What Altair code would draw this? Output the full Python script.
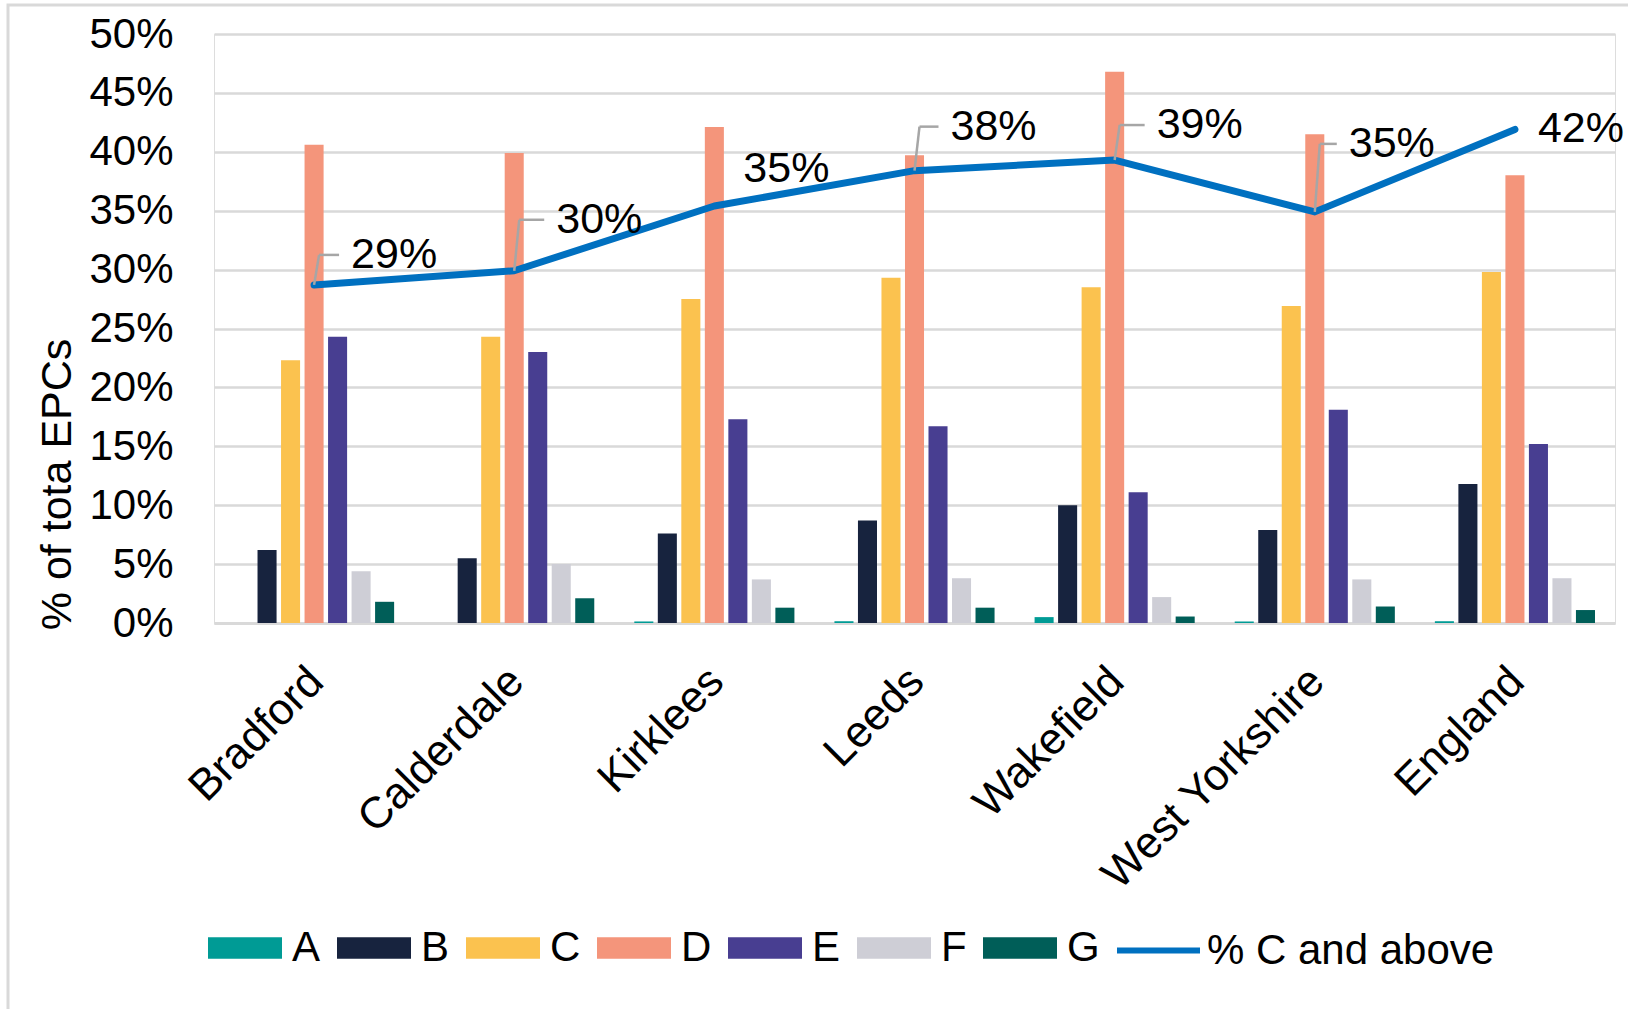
import altair as alt
import pandas as pd

FONT = "Liberation Sans"

regions = ["Bradford", "Calderdale", "Kirklees", "Leeds", "Wakefield", "West Yorkshire", "England"]
bands = ["A", "B", "C", "D", "E", "F", "G"]

# Share of EPCs in each rating band (%), listed in region order
band_a = [0.0, 0.0, 0.13, 0.15, 0.5, 0.12, 0.15]
band_b = [6.2, 5.5, 7.6, 8.7, 10.0, 7.9, 11.8]
band_c = [22.3, 24.3, 27.5, 29.3, 28.5, 26.9, 29.8]
band_d = [40.6, 39.9, 42.1, 39.7, 46.8, 41.5, 38.0]
band_e = [24.3, 23.0, 17.3, 16.7, 11.1, 18.1, 15.2]
band_f = [4.4, 5.0, 3.7, 3.8, 2.2, 3.7, 3.8]
band_g = [1.8, 2.1, 1.3, 1.3, 0.55, 1.4, 1.1]

# Share rated C or better (%)
c_and_above = [28.7, 29.9, 35.4, 38.4, 39.3, 34.9, 41.9]
line_name = "% C and above"

band_colors = ["#009B95", "#17233E", "#FBC24F", "#F4957B", "#483E91", "#CECED6", "#005E58"]
line_color = "#0070C0"

band_values = [band_a, band_b, band_c, band_d, band_e, band_f, band_g]
bars_df = pd.DataFrame(
    [
        {"region": r, "band": b, "value": vals[i] / 100}
        for b, vals in zip(bands, band_values)
        for i, r in enumerate(regions)
    ]
)
line_df = pd.DataFrame(
    {"region": regions, "value": [v / 100 for v in c_and_above], "series": line_name}
)

W, H = 1401, 589

x_scale = alt.Scale(domain=regions, paddingInner=0.2, paddingOuter=0.1)
y_scale = alt.Scale(domain=[0, 0.5], nice=False, zero=True)

x_axis = alt.Axis(
    labelAngle=-45,
    labelAlign="right",
    labelBaseline="top",
    labelFontSize=44,
    labelFont=FONT,
    labelColor="black",
    labelPadding=36,
    labelOffset=-13,
    ticks=False,
    domain=True,
    domainColor="#D9D9D9",
    domainWidth=3,
    grid=False,
    labelLimit=600,
)
y_axis = alt.Axis(
    values=[i * 0.05 for i in range(11)],
    format=".0%",
    labelFontSize=42,
    labelFont=FONT,
    labelColor="black",
    labelPadding=41,
    ticks=False,
    domain=False,
    grid=True,
    gridColor="#D9D9D9",
    gridWidth=2.5,
    titleFont=FONT,
    titleFontSize=43,
    titleFontWeight="normal",
    titleColor="black",
    titleAngle=-90,
    titleAlign="center",
    titleBaseline="middle",
    titleX=-157,
    titleY=450,
)

y_enc = alt.Y("value:Q", scale=y_scale, axis=y_axis, title="% of tota EPCs")


def x_enc(center=False):
    if center:
        return alt.X("region:N", sort=regions, scale=x_scale, axis=x_axis, title=None, bandPosition=0.5)
    return alt.X("region:N", sort=regions, scale=x_scale, axis=x_axis, title=None)


bars = (
    alt.Chart(bars_df)
    .mark_bar()
    .encode(
        x=x_enc(),
        xOffset=alt.XOffset("band:N", sort=bands, scale=alt.Scale(paddingInner=0.19, paddingOuter=0)),
        y=y_enc,
        color=alt.Color(
            "band:N",
            scale=alt.Scale(domain=bands, range=band_colors),
            legend=alt.Legend(
                title=None,
                orient="none",
                direction="horizontal",
                legendX=-6,
                legendY=877,
                padding=0,
                symbolType="M-1,-0.29H1V0.29H-1Z",
                symbolSize=5476,
                symbolStrokeWidth=0,
                symbolOpacity=1,
                labelFont=FONT,
                labelFontSize=42,
                labelColor="black",
                labelOffset=10,
                columnPadding=16,
            ),
        ),
    )
)

line = (
    alt.Chart(line_df)
    .mark_line(strokeWidth=7, strokeCap="round", strokeJoin="round")
    .encode(
        x=x_enc(True),
        y=y_enc,
        stroke=alt.Stroke(
            "series:N",
            scale=alt.Scale(domain=[line_name], range=[line_color]),
            legend=alt.Legend(
                title=None,
                orient="none",
                direction="horizontal",
                legendX=900,
                legendY=872,
                padding=0,
                symbolType="stroke",
                symbolSize=6889,
                symbolStrokeWidth=6,
                labelFont=FONT,
                labelFontSize=42,
                labelColor="black",
                labelOffset=4,
                labelLimit=600,
            ),
        ),
    )
)

# Label placement for each point: (dx, dy, draw leader line)
label_nudge = {
    "Bradford": (37, -30, True),
    "Calderdale": (42, -51, True),
    "Kirklees": (29, -37, False),
    "Leeds": (36, -44, True),
    "Wakefield": (42, -35, True),
    "West Yorkshire": (34, -68, True),
    "England": (23, 0, False),
}

label_layers = []
leader_color = "#A6A6A6"
for region, (dx, dy, leader) in label_nudge.items():
    src = alt.Chart(line_df).transform_filter(alt.datum.region == region)
    if leader:
        label_layers.append(
            src.mark_rule(color=leader_color, strokeWidth=2.5, x2Offset=5, y2Offset=dy)
            .encode(
                x=x_enc(True),
                x2=alt.X2("region:N", bandPosition=0.5),
                y=y_enc,
                y2=alt.Y2("value:Q"),
            )
        )
        label_layers.append(
            src.mark_rule(color=leader_color, strokeWidth=2.5, xOffset=5, yOffset=dy, x2Offset=dx - 12, y2Offset=dy)
            .encode(
                x=x_enc(True),
                x2=alt.X2("region:N", bandPosition=0.5),
                y=y_enc,
                y2=alt.Y2("value:Q"),
            )
        )
    label_layers.append(
        src.mark_text(
            align="left", baseline="middle", dx=dx, dy=dy, font=FONT, fontSize=43, color="black"
        ).encode(
            x=x_enc(True),
            y=y_enc,
            text=alt.Text("value:Q", format=".0%"),
        )
    )

# Light grey frame around the whole chart area
frame = (
    alt.Chart(alt.Data(values=[{"frame": 1}]))
    .mark_rect(fill=None, stroke="#D9D9D9", strokeWidth=3, clip=False)
    .encode(
        x=alt.value(-206),
        x2=alt.value(W + 200),
        y=alt.value(-29),
        y2=alt.value(H + 600),
    )
)

chart = (
    alt.layer(frame, bars, line, *label_layers)
    .properties(
        width=W,
        height=H,
        autosize=alt.AutoSizeParams(type="none"),
        padding={"left": 214, "top": 34, "right": 13, "bottom": 386},
    )
    .configure_view(stroke=None)
    .configure(font=FONT, background="white")
)

chart.save("out.html", embed_options={"renderer": "svg", "actions": False})
